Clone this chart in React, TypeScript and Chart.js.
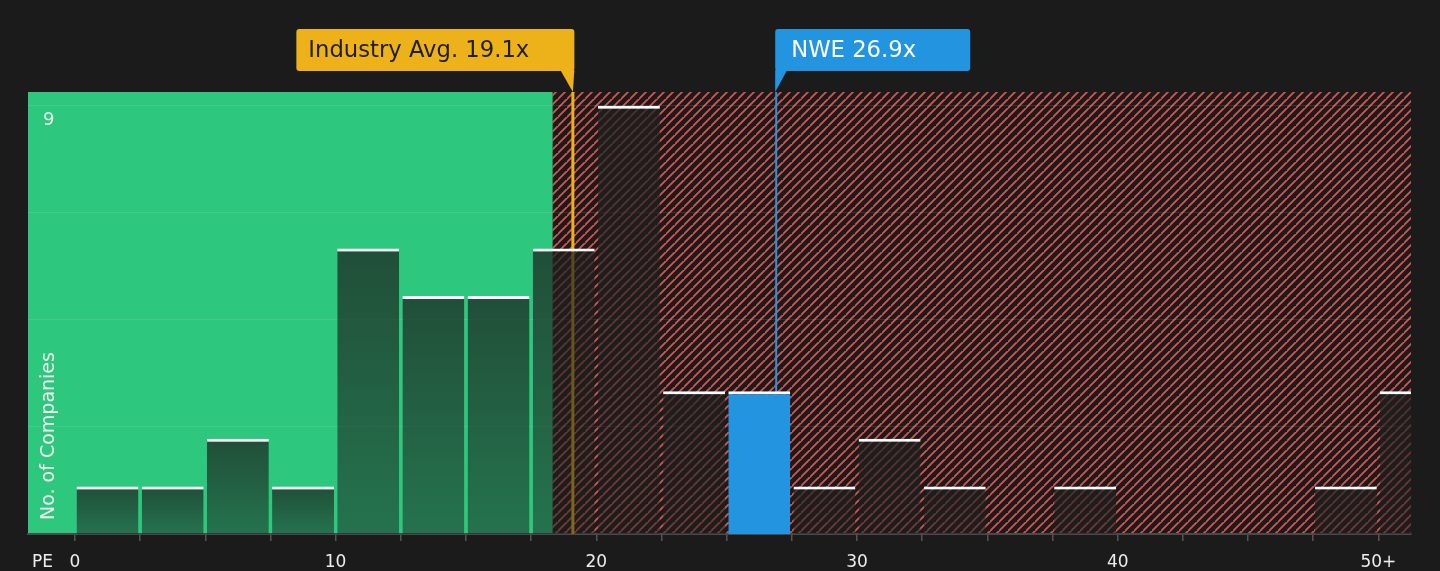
import { useEffect, useRef } from "react";
import { Chart, registerables } from "chart.js";

Chart.register(...registerables);

// PE histogram bins (start of each 2.5-wide bin) and how many companies fall in each
const binStarts = [0, 2.5, 5, 7.5, 10, 12.5, 15, 17.5, 20, 22.5, 25, 27.5, 30, 32.5, 37.5, 47.5, 50];
const companyCounts = [1, 1, 2, 1, 6, 5, 5, 6, 9, 3, 3, 1, 2, 1, 1, 1, 3];
const binWidth = 2.5;

const xTickValues = [0, 2.5, 5, 7.5, 10, 12.5, 15, 17.5, 20, 22.5, 25, 27.5, 30, 32.5, 35, 37.5, 40, 42.5, 45, 47.5, 50];
const xTickLabels: Record<number, string> = { 0: "0", 10: "10", 20: "20", 30: "30", 40: "40", 50: "50+" };
const yGridValues = [2.25, 4.5, 6.75, 9];
const yTopLabel = 9;

const industryAvg = 19.1;
const companyPe = 26.9;
const companyName = "NWE";
const fairBoundary = 18.33;

const X_MIN = -1.8;
const X_MAX = 51.25;
const Y_MAX = 9.29;

const GOLD = "#edb21a";
const BLUE = "#2394e0";
const GREEN = "#2dc77e";
const BG = "#1b1b1b";
const FONT = "'DejaVu Sans', sans-serif";

function makeHatch(ctx: CanvasRenderingContext2D) {
  const s = 9;
  const c = document.createElement("canvas");
  c.width = s;
  c.height = s;
  const p = c.getContext("2d")!;
  p.fillStyle = BG;
  p.fillRect(0, 0, s, s);
  p.strokeStyle = "#d9534f";
  p.lineWidth = 1.8;
  p.beginPath();
  p.moveTo(-1, s + 1);
  p.lineTo(s + 1, -1);
  p.moveTo(-1 - s, s + 1);
  p.lineTo(1, -1);
  p.moveTo(s - 1, 2 * s + 1);
  p.lineTo(2 * s + 1, s - 1);
  p.stroke();
  return ctx.createPattern(c, "repeat")!;
}

const backdrop = {
  id: "backdrop",
  beforeDraw(chart: any) {
    const { ctx, chartArea: a, scales } = chart;
    const xb = scales.x.getPixelForValue(fairBoundary);
    ctx.save();
    ctx.fillStyle = GREEN;
    ctx.fillRect(a.left, a.top, xb - a.left, a.bottom - a.top);
    ctx.fillStyle = makeHatch(ctx);
    ctx.fillRect(xb, a.top, a.right - xb, a.bottom - a.top);
    ctx.restore();
  },
  beforeDatasetsDraw(chart: any) {
    const { ctx, chartArea: a, scales } = chart;
    ctx.save();
    const xi = scales.x.getPixelForValue(industryAvg);
    ctx.strokeStyle = GOLD;
    ctx.lineWidth = 3;
    ctx.beginPath();
    ctx.moveTo(xi, a.top);
    ctx.lineTo(xi, a.bottom);
    ctx.stroke();
    const xc = scales.x.getPixelForValue(companyPe);
    ctx.strokeStyle = BLUE;
    ctx.lineWidth = 2;
    ctx.beginPath();
    ctx.moveTo(xc, a.top);
    ctx.lineTo(xc, a.bottom);
    ctx.stroke();
    ctx.restore();
  },
  afterDraw(chart: any) {
    const { ctx, chartArea: a, scales } = chart;
    ctx.save();
    const top = a.top - 63;
    const h = 42;
    const bottom = top + h;

    // industry average box, pointer on its right edge
    const xi = scales.x.getPixelForValue(industryAvg);
    const r1 = xi + 1.5;
    const l1 = r1 - 278;
    ctx.fillStyle = GOLD;
    ctx.beginPath();
    ctx.roundRect(l1, top, r1 - l1, h, 3);
    ctx.fill();
    ctx.beginPath();
    ctx.moveTo(r1 - 14, bottom - 1);
    ctx.lineTo(r1, bottom - 1);
    ctx.lineTo(xi, a.top);
    ctx.closePath();
    ctx.fill();
    ctx.font = `22.7px ${FONT}`;
    ctx.textBaseline = "middle";
    ctx.textAlign = "left";
    ctx.fillStyle = "#1e1e1e";
    ctx.fillText(`Industry Avg. ${industryAvg.toFixed(1)}x`, l1 + 12, top + h / 2 + 1);

    // company box, pointer on its left edge
    const xc = scales.x.getPixelForValue(companyPe);
    const l2 = xc - 1;
    ctx.fillStyle = BLUE;
    ctx.beginPath();
    ctx.roundRect(l2, top, 195, h, 3);
    ctx.fill();
    ctx.beginPath();
    ctx.moveTo(l2, bottom - 1);
    ctx.lineTo(l2 + 12, bottom - 1);
    ctx.lineTo(l2, a.top);
    ctx.closePath();
    ctx.fill();
    ctx.fillStyle = "#ffffff";
    ctx.fillText(`${companyName} ${companyPe.toFixed(1)}x`, l2 + 16, top + h / 2 + 1);

    // axis captions
    ctx.font = `17px ${FONT}`;
    ctx.fillStyle = "#eeeeee";
    ctx.fillText("PE", 32, a.bottom + 29);
    ctx.font = `18px ${FONT}`;
    ctx.fillText(String(yTopLabel), a.left + 15, scales.y.getPixelForValue(yTopLabel) + 15);
    ctx.font = `19px ${FONT}`;
    ctx.translate(a.left + 21, a.bottom - 14);
    ctx.rotate(-Math.PI / 2);
    ctx.fillText("No. of Companies", 0, 0);
    ctx.restore();
  },
};

export default function App() {
  const canvasRef = useRef<HTMLCanvasElement>(null);

  useEffect(() => {
    document.body.style.margin = "0";
    document.body.style.background = BG;
    if (!canvasRef.current) return;
    const highlight = binStarts.findIndex((s) => companyPe >= s && companyPe < s + binWidth);
    const chart = new Chart(canvasRef.current, {
      type: "bar",
      data: {
        datasets: [
          {
            data: binStarts.map((s, i) => ({ x: s + binWidth / 2, y: companyCounts[i] })),
            backgroundColor: (c: any) => {
              if (c.dataIndex === highlight) return BLUE;
              const chartArea = c.chart.chartArea;
              const y = c.chart.scales.y;
              if (!chartArea || !y || !c.raw) return "rgba(28,32,30,0.65)";
              const t = y.getPixelForValue(c.raw.y);
              const b = y.getPixelForValue(0);
              const g = c.chart.ctx.createLinearGradient(0, t, 0, b);
              g.addColorStop(0, "rgba(28,32,30,0.72)");
              g.addColorStop(1, "rgba(28,32,30,0.5)");
              return g;
            },
            borderColor: "#ffffff",
            borderWidth: { top: 3, left: 0, right: 0, bottom: 0 },
            borderSkipped: "bottom",
            barPercentage: 0.95,
            categoryPercentage: 1,
          },
        ],
      },
      options: {
        animation: false,
        responsive: true,
        maintainAspectRatio: false,
        layout: { padding: { top: 92, left: 28, right: 29, bottom: -13 } },
        plugins: { legend: { display: false }, tooltip: { enabled: false } },
        scales: {
          x: {
            type: "linear",
            min: X_MIN,
            max: X_MAX,
            offset: false,
            afterBuildTicks: (s: any) => {
              s.ticks = xTickValues.map((value) => ({ value }));
            },
            ticks: {
              autoSkip: false,
              maxRotation: 0,
              padding: 13,
              color: "#eeeeee",
              font: { family: FONT, size: 17, lineHeight: 1 },
              callback: (v: any) => xTickLabels[Number(v)] ?? "",
            },
            grid: { display: true, drawOnChartArea: false, offset: false, tickLength: 7, color: "#555555", lineWidth: 1.5 },
            border: { display: true, color: "#4a4a4a", width: 2 },
          },
          y: {
            min: 0,
            max: Y_MAX,
            afterBuildTicks: (s: any) => {
              s.ticks = yGridValues.map((value) => ({ value }));
            },
            ticks: { display: false },
            grid: { color: "rgba(255,255,255,0.1)", drawTicks: false },
            border: { display: false },
          },
        },
      },
      plugins: [backdrop],
    });
    return () => chart.destroy();
  }, []);

  return (
    <div style={{ width: 1440, height: 571, background: BG }}>
      <canvas ref={canvasRef} />
    </div>
  );
}
